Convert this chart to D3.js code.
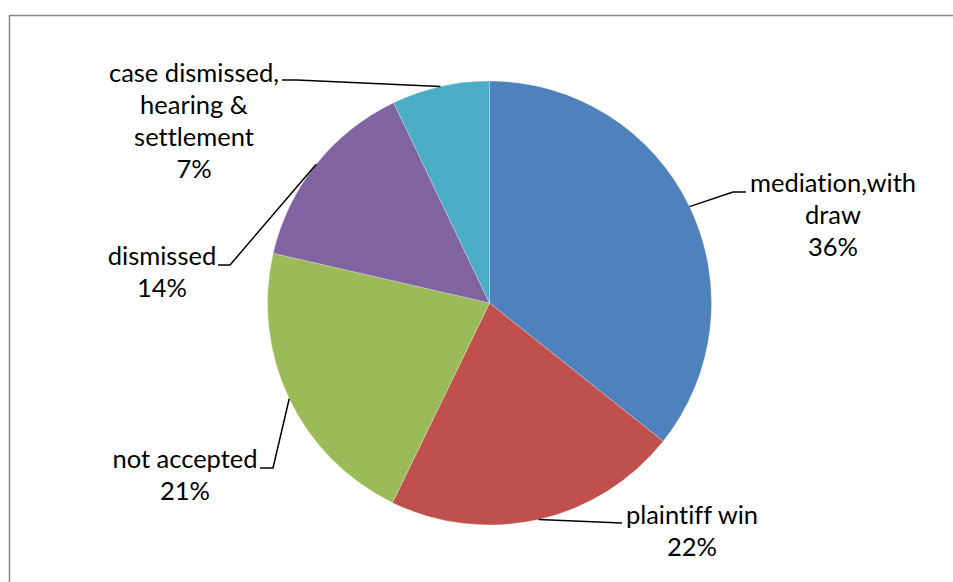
<!DOCTYPE html>
<html>
<head>
<meta charset="utf-8">
<script src="https://cdn.jsdelivr.net/npm/d3@7"></script>
<style>
  html, body { margin: 0; padding: 0; background: #fff; }
  svg { display: block; }
  text { font-variant-ligatures: none; font-feature-settings: "liga" 0, "clig" 0; }
</style>
</head>
<body>
<svg width="953" height="582"></svg>
<script>
// pie of case outcomes

var categories = ["mediation,with draw", "plaintiff win", "not accepted", "dismissed", "case dismissed, hearing & settlement"];
var values = [35.7, 21.5, 21.4, 14.3, 7.1];
var colors = ["#4F81BD", "#C0504D", "#9BBB59", "#8064A2", "#4BACC6"];

// label text lines (name lines, percent is added from the values)
var labelLines = [
    ["mediation,with", "draw"],
    ["plaintiff win"],
    ["not accepted"],
    ["dismissed"],
    ["case dismissed,", "hearing &", "settlement"]
];

// label layout: text centre x, first baseline y, leader elbow + end
var labelPos = [
    { x: 833, y: 192, elbow: [733, 192], end: [746, 192] },
    { x: 692, y: 524, elbow: [600, 522], end: [622, 523] },
    { x: 185, y: 468, elbow: [273, 468], end: [260, 468] },
    { x: 162, y: 265, elbow: [230, 265], end: [218, 265] },
    { x: 194, y: 82,  elbow: [297, 80],  end: [282, 80] }
];

var svg = d3.select("svg"),
    width = +svg.attr("width"),
    height = +svg.attr("height");

var cx = 489.5, cy = 303, radius = 222;
var lineH = 32;

// chart area frame (runs off the right/bottom edge)
svg.append("rect")
    .attr("x", 9.5)
    .attr("y", 15.5)
    .attr("width", width + 20)
    .attr("height", height + 20)
    .attr("fill", "none")
    .attr("stroke", "#888")
    .attr("stroke-width", 1.5);

var total = d3.sum(values);

var pie = d3.pie()
    .sort(null)
    .value(function(d) { return d; });

var arc = d3.arc()
    .innerRadius(0)
    .outerRadius(radius);

var arcs = pie(values);

var g = svg.append("g")
    .attr("transform", "translate(" + cx + "," + cy + ")");

g.selectAll("path")
    .data(arcs)
    .enter().append("path")
    .attr("d", arc)
    .attr("fill", function(d, i) { return colors[i]; })
    .attr("stroke", "#fff")
    .attr("stroke-opacity", 0.5)
    .attr("stroke-width", 0.5);

// leader lines start at the slice's mid angle on the rim
function rimPoint(d) {
    var a = (d.startAngle + d.endAngle) / 2;
    return [cx + radius * Math.sin(a), cy - radius * Math.cos(a)];
}

svg.append("g")
    .selectAll("polyline")
    .data(arcs)
    .enter().append("polyline")
    .attr("fill", "none")
    .attr("stroke", "#000")
    .attr("stroke-width", 1.5)
    .attr("points", function(d, i) {
        var p = labelPos[i];
        var pts = [rimPoint(d)];
        if (i !== 1) pts.push(p.elbow);
        pts.push(p.end);
        return pts.map(function(q) { return q.join(","); }).join(" ");
    });

var labels = svg.append("g")
    .attr("font-family", "Lato, 'Open Sans', sans-serif")
    .attr("font-size", "25.5px")
    .attr("fill", "#000")
    .attr("text-anchor", "middle");

labels.selectAll("text")
    .data(arcs)
    .enter().append("text")
    .each(function(d, i) {
        var t = d3.select(this);
        var lines = labelLines[i].concat([Math.round(d.value / total * 100) + "%"]);
        lines.forEach(function(s, k) {
            t.append("tspan")
                .attr("x", labelPos[i].x)
                .attr("y", labelPos[i].y + k * lineH)
                .text(s);
        });
    });
</script>
</body>
</html>
